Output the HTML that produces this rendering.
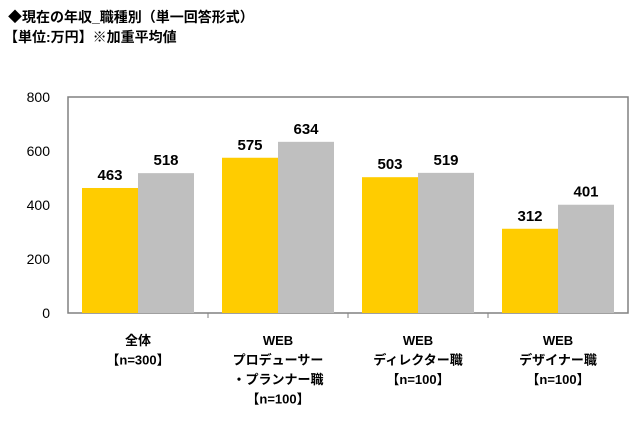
<!DOCTYPE html>
<html><head><meta charset="utf-8"><style>
body{margin:0;background:#fff;width:640px;height:426px;overflow:hidden;font-family:"Liberation Sans","Noto Sans CJK JP",sans-serif}
svg text{font-family:"Liberation Sans","Noto Sans CJK JP",sans-serif}
</style></head><body>
<svg width="640" height="426">
<text x="8" y="22" font-size="14" font-weight="bold" fill="#000">◆現在の年収_職種別（単一回答形式）</text>
<text x="4" y="42" font-size="14" font-weight="bold" fill="#000">【単位:万円】※加重平均値</text>
<g id="g"></g>
</svg>
<script>
const categories=[["全体","【n=300】"],["WEB","プロデューサー","・プランナー職","【n=100】"],["WEB","ディレクター職","【n=100】"],["WEB","デザイナー職","【n=100】"]];
const seriesA=[463,575,503,312];
const seriesB=[518,634,519,401];
const yTicks=[0,200,400,600,800];
const NS="http://www.w3.org/2000/svg";
const g=document.getElementById('g');
const L=68,R=628,T=97,B=313,max=800;
const y=v=>B-(v/max)*(B-T);
const cw=(R-L)/categories.length;
const x=i=>L+i*cw;
function mk(t,a){const e=document.createElementNS(NS,t);for(const k in a)e.setAttribute(k,a[k]);g.appendChild(e);return e;}
const fr=mk('rect',{x:L,y:T,width:R-L,height:B-T,fill:'none',stroke:'#808080','stroke-width':1.5});


yTicks.forEach(v=>{const t=mk('text',{x:50,y:y(v)+5,'font-size':14,'text-anchor':'end',fill:'#000'});t.textContent=v;

});
const bw=56,off=14;
categories.forEach((c,i)=>{
 [[seriesA,'#FFCC00',0],[seriesB,'#BFBFBF',1]].forEach(([s,col,k])=>{
  const bx=x(i)+off+k*bw;
  const r=mk('rect',{x:bx,y:y(s[i]),width:bw,height:B-y(s[i]),fill:col});
  
  
  const t=mk('text',{x:bx+bw/2,y:y(s[i])-8,'font-size':15,'font-weight':'bold','text-anchor':'middle',fill:'#000'});t.textContent=s[i];
  
  
 });
 if(i>0){const tk=mk('line',{x1:x(i),x2:x(i),y1:B,y2:B+5,stroke:'#808080'});
  
  }
 c.forEach((ln,j)=>{const t=mk('text',{x:x(i)+cw/2,y:345+j*19.5,'font-size':13,'font-weight':'bold','text-anchor':'middle',fill:'#000'});t.textContent=ln;
  
  });
});
</script>
</body></html>
